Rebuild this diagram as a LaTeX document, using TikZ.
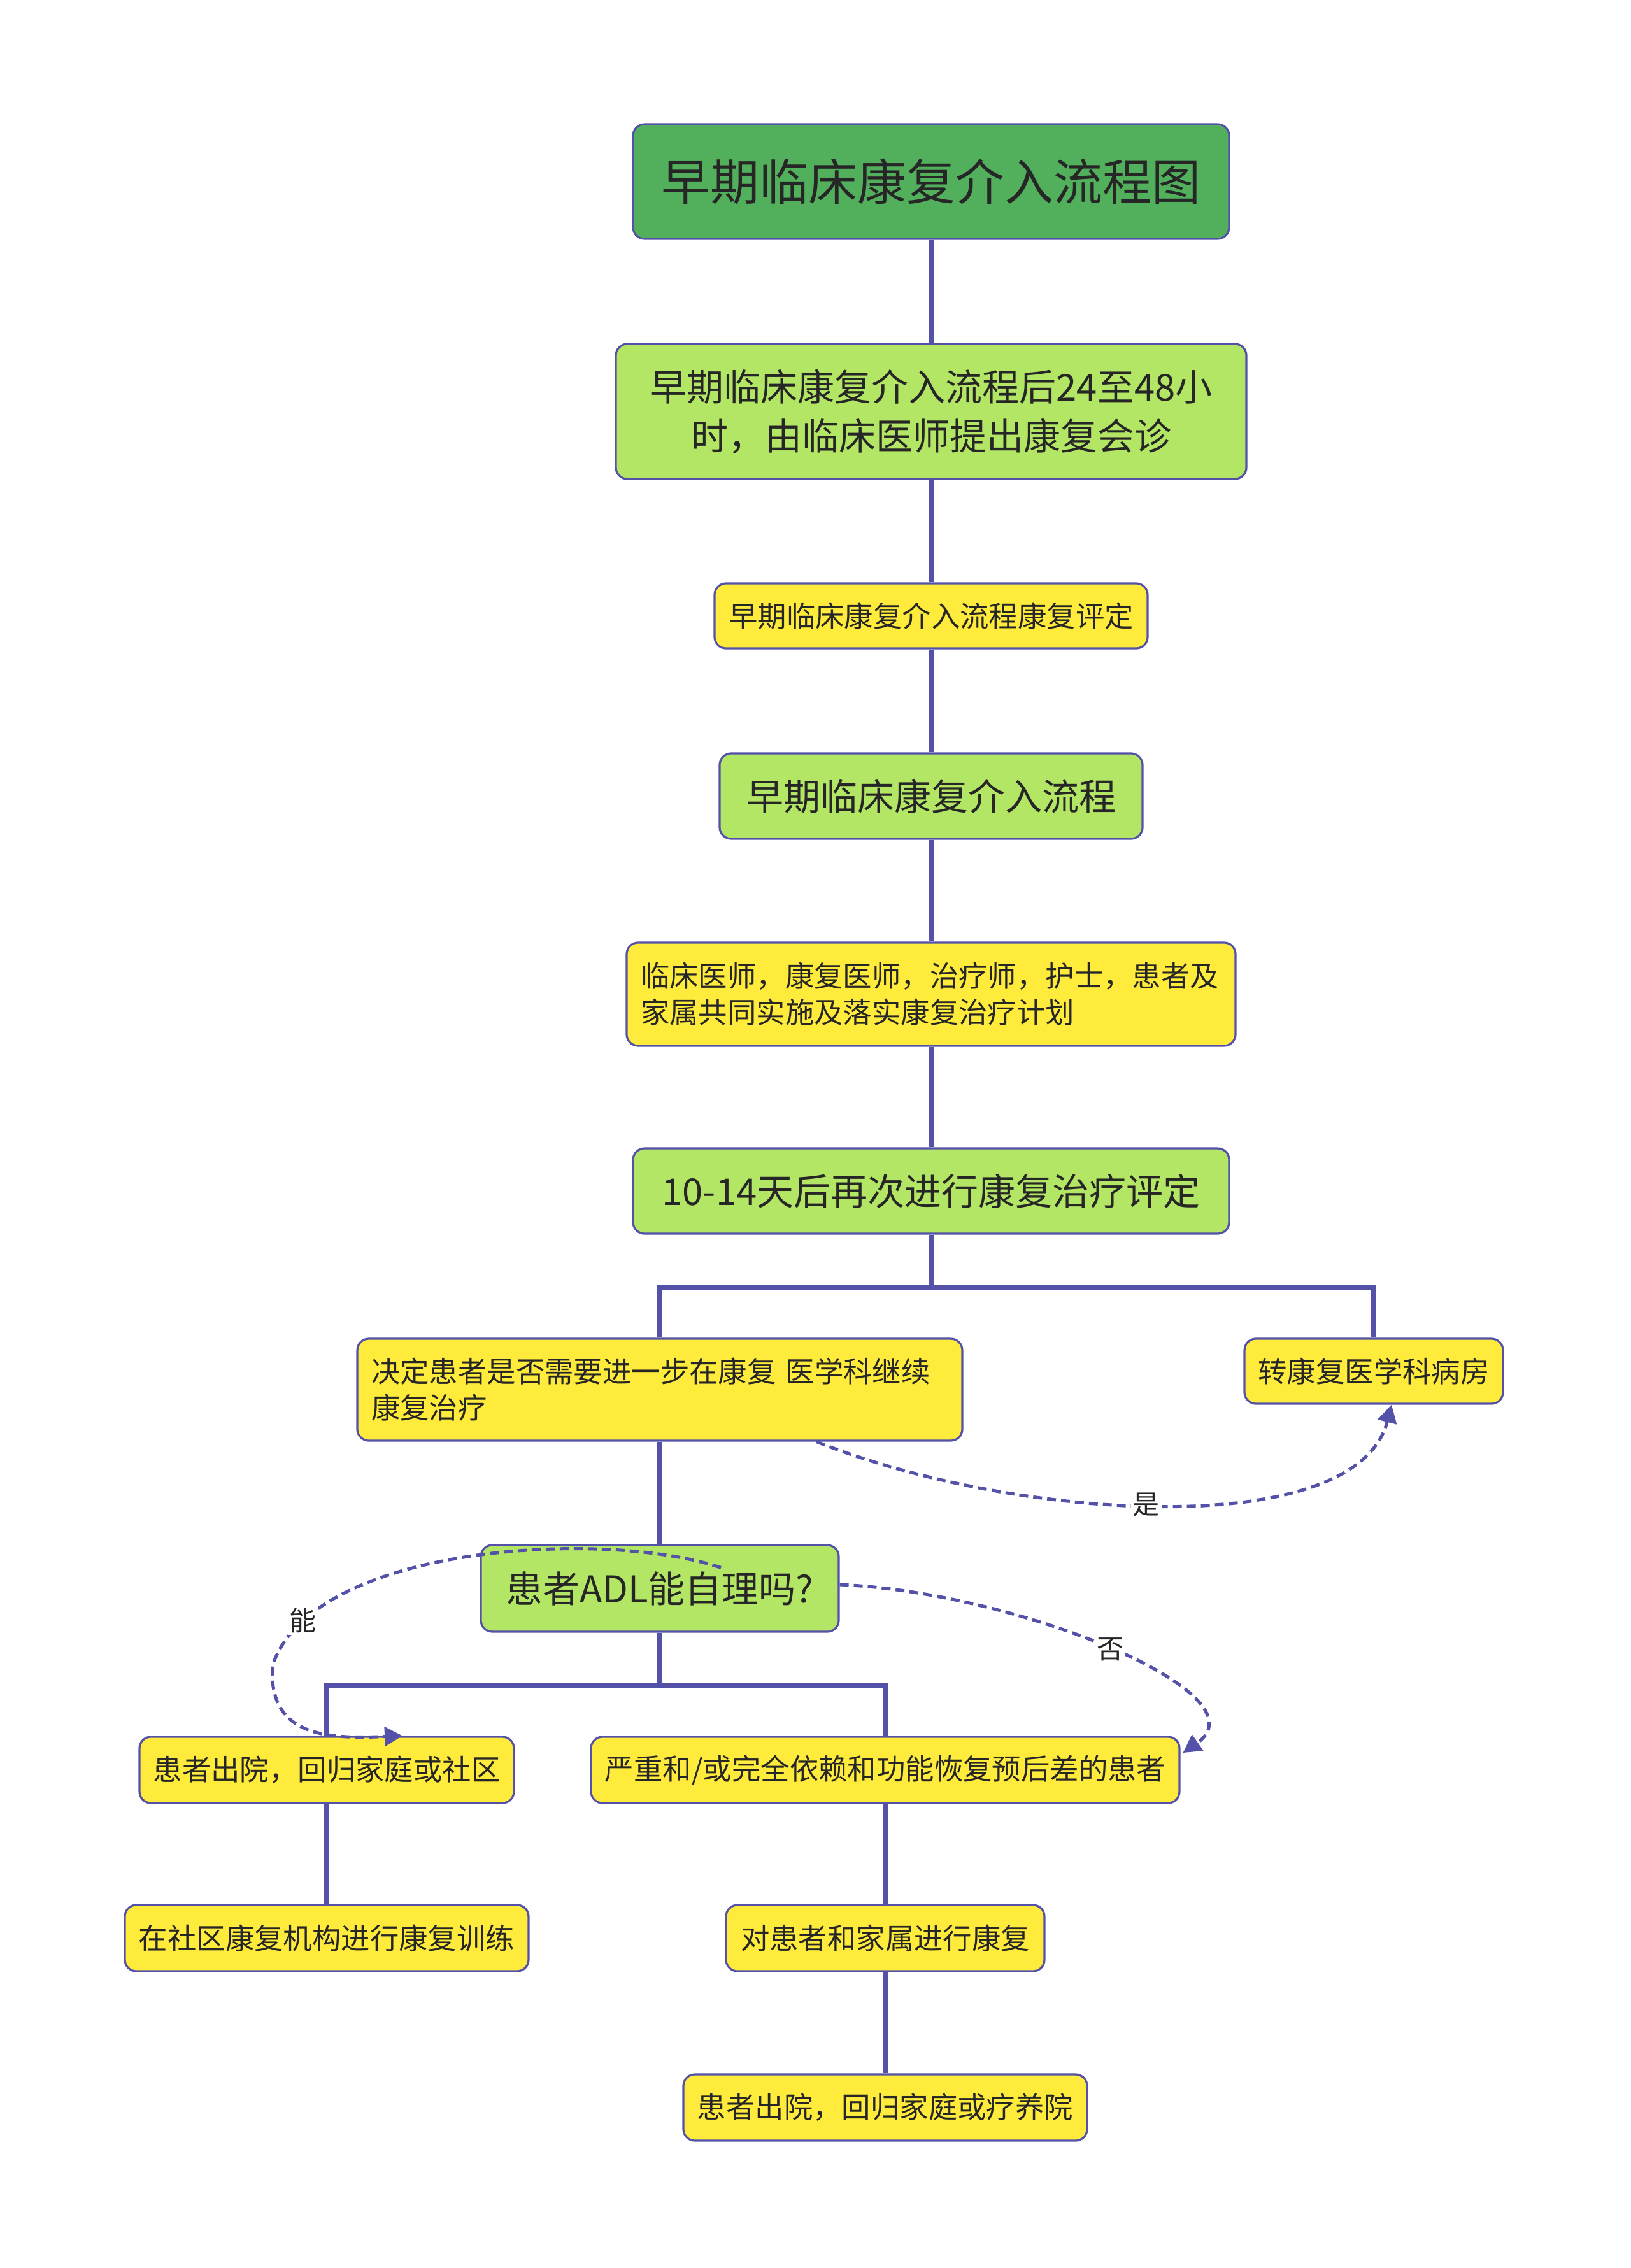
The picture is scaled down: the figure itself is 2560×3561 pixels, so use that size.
\documentclass[tikz,border=0pt]{standalone}
\usepackage{fontspec}
\setmainfont{Noto Sans CJK SC}
\usetikzlibrary{arrows.meta}

\definecolor{titlegreen}{HTML}{52B05C}
\definecolor{lightgreen}{HTML}{B4E665}
\definecolor{boxyellow}{HTML}{FFEB3B}
\definecolor{linkblue}{HTML}{5352A8}
\definecolor{textgray}{HTML}{262626}

\begin{document}
\begin{tikzpicture}[x=0.5pt, y=-0.5pt,
    box/.style={draw=linkblue, line width=1.6pt, rounded corners=9pt, text=textgray, inner sep=0pt},
    titlebox/.style={box, fill=titlegreen, font=\fontsize{38.5}{46}\selectfont},
    greenbox/.style={box, fill=lightgreen, font=\fontsize{29}{38.5}\selectfont},
    yellowbox/.style={box, fill=boxyellow, font=\fontsize{22.7}{28.5}\selectfont},
    link/.style={draw=linkblue, line width=4pt},
    jump/.style={draw=linkblue, line width=2.5pt, dash pattern=on 7pt off 4pt, -{Triangle[length=14pt,width=15pt]}},
    tag/.style={fill=white, text=textgray, font=\fontsize{21}{21}\selectfont, inner sep=1.5pt}]
    \path[fill=white] (0,0) rectangle (2560,3561);

    \node[titlebox, minimum width=468pt, minimum height=90pt] at (1462,285) (title) {早期临床康复介入流程图};
    \node[greenbox, minimum width=495pt, minimum height=106pt, align=center] at (1462,646) (consult) {早期临床康复介入流程后24至48小\\时，由临床医师提出康复会诊};
    \node[yellowbox, minimum width=340pt, minimum height=51pt] at (1462,967) (assess) {早期临床康复介入流程康复评定};
    \node[greenbox, minimum width=332pt, minimum height=67pt] at (1462,1250) (flow) {早期临床康复介入流程};
    \node[yellowbox, inner xsep=11pt, text width=456pt, minimum height=81pt, align=left] at (1462,1561) (team) {临床医师，康复医师，治疗师，护士，患者及\\家属共同实施及落实康复治疗计划};
    \node[greenbox, minimum width=468pt, minimum height=67pt] at (1462,1870) (reassess) {10-14天后再次进行康复治疗评定};
    \node[yellowbox, inner xsep=11pt, text width=453pt, minimum height=80pt, align=left] at (1036,2182) (decide) {决定患者是否需要进一步在康复 医学科继续\\康复治疗};
    \node[yellowbox, minimum width=203pt, minimum height=51pt] at (2157,2153) (transfer) {转康复医学科病房};
    \node[greenbox, minimum width=281pt, minimum height=68pt] at (1036,2494) (adl) {患者ADL能自理吗?};
    \node[yellowbox, minimum width=294pt, minimum height=52pt] at (513,2779) (home) {患者出院，回归家庭或社区};
    \node[yellowbox, minimum width=462pt, minimum height=52pt] at (1390,2779) (severe) {严重和/或完全依赖和功能恢复预后差的患者};
    \node[yellowbox, minimum width=317pt, minimum height=52pt] at (513,3043) (community) {在社区康复机构进行康复训练};
    \node[yellowbox, minimum width=250pt, minimum height=52pt] at (1390,3043) (family) {对患者和家属进行康复};
    \node[yellowbox, minimum width=317pt, minimum height=52pt] at (1390,3309) (nursing) {患者出院，回归家庭或疗养院};

    \coordinate (fork1) at (1462,2022);
    \coordinate (fork2) at (1036,2646);

    \draw[link] (title) -- (consult);
    \draw[link] (consult) -- (assess);
    \draw[link] (assess) -- (flow);
    \draw[link] (flow) -- (team);
    \draw[link] (team) -- (reassess);
    \draw[link] (reassess) -- (fork1);
    \draw[link] (decide.north) |- (fork1) -| (transfer.north);
    \draw[link] (decide) -- (adl);
    \draw[link] (adl) -- (fork2);
    \draw[link] (home.north) |- (fork2) -| (severe.north);
    \draw[link] (home) -- (community);
    \draw[link] (severe) -- (family);
    \draw[link] (family) -- (nursing);

    \draw[jump] ([xshift=123pt]decide.south) .. controls (1600,2390) and (2130,2420) .. ([xshift=14pt]transfer.south) node[tag, pos=0.47] {是};
    \draw[jump] ([xshift=48pt,yshift=-18.5pt]adl.north) .. controls (950,2400) and (490,2425) .. (428,2615) node[tag, pos=0.86] {能} .. controls (420,2730) and (520,2730) .. ([xshift=59.5pt]home.north);
    \draw[jump] ([yshift=3pt]adl.east) .. controls (1600,2500) and (1990,2660) .. ([xshift=2pt,yshift=13.5pt]severe.east) node[tag, pos=0.5] {否};
\end{tikzpicture}
\end{document}
